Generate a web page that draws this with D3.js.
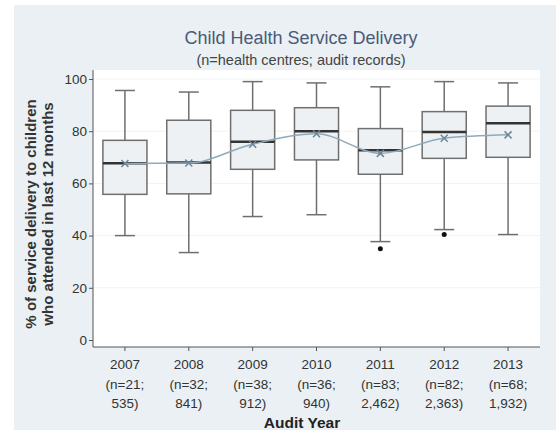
<!DOCTYPE html>
<html>
<head>
<meta charset="utf-8">
<script src="https://cdn.jsdelivr.net/npm/d3@7"></script>
<style>
  body { margin: 0; background: #fff; }
  svg text { font-family: "Liberation Sans", Arial, sans-serif; }
</style>
</head>
<body>
<svg id="chart"></svg>
<script>
// data
const years = ['2007', '2008', '2009', '2010', '2011', '2012', '2013'];
const nLabels = ['(n=21;', '(n=32;', '(n=38;', '(n=36;', '(n=83;', '(n=82;', '(n=68;'];
const recLabels = ['535)', '841)', '912)', '940)', '2,462)', '2,363)', '1,932)'];
const lowWhisker = [40, 33.5, 47.3, 48, 37.7, 42.3, 40.4];
const q1 = [55.8, 56, 65.4, 69, 63.5, 69.6, 70];
const median = [67.7, 68, 76, 80, 72.7, 79.7, 83];
const q3 = [76.5, 84.2, 88, 89, 81, 87.5, 89.6];
const highWhisker = [95.6, 95, 99, 98.5, 97, 99, 98.5];
const means = [67.6, 67.8, 75, 79, 71.5, 77.3, 78.6];
const outliers = [[], [], [], [], [35], [40.4], []];
const yTicks = [0, 20, 40, 60, 80, 100];

const W = 556, H = 432;
const margin = {top: 70, bottom: 87, left: 93, right: 16};
const $svg = d3.select('#chart').attr('width', W).attr('height', H);

// outer panel
$svg.append('rect')
  .attr('x', 14).attr('y', 5)
  .attr('width', W - 14).attr('height', 425)
  .attr('fill', '#eaf0f3');

const scaleX = d3.scaleBand()
  .domain(years)
  .range([margin.left, W - margin.right]);

const scaleY = d3.scaleLinear()
  .domain([0, 100])
  .range([340, 79]);

const plotBottom = H - margin.bottom + 2; // 345

// plot area
$svg.append('rect')
  .attr('x', margin.left).attr('y', margin.top)
  .attr('width', W - margin.right - margin.left)
  .attr('height', plotBottom - margin.top)
  .attr('fill', '#ffffff');

// faint gridlines
$svg.append('g')
  .selectAll('line')
  .data(yTicks.filter(d => d > 0))
  .join('line')
  .attr('x1', margin.left).attr('x2', W - margin.right)
  .attr('y1', d => scaleY(d)).attr('y2', d => scaleY(d))
  .attr('stroke', '#f0f3f5').attr('stroke-width', 1);

// titles
$svg.append('text')
  .attr('x', 301).attr('y', 44)
  .attr('text-anchor', 'middle')
  .attr('font-size', 18)
  .attr('fill', '#4a5a78')
  .text('Child Health Service Delivery');

$svg.append('text')
  .attr('x', 301).attr('y', 65)
  .attr('text-anchor', 'middle')
  .attr('font-size', 14.5)
  .attr('fill', '#444')
  .text('(n=health centres; audit records)');

const boxW = scaleX.bandwidth() * 0.69;
const capW = 20;
const cx = d => scaleX(d) + scaleX.bandwidth() / 2;

const $boxes = $svg.append('g')
  .selectAll('g')
  .data(years)
  .join('g');

// whiskers
$boxes.append('line')
  .attr('x1', cx).attr('x2', cx)
  .attr('y1', (d, i) => scaleY(highWhisker[i]))
  .attr('y2', (d, i) => scaleY(q3[i]))
  .attr('stroke', '#6f6f6f').attr('stroke-width', 1.5);
$boxes.append('line')
  .attr('x1', cx).attr('x2', cx)
  .attr('y1', (d, i) => scaleY(q1[i]))
  .attr('y2', (d, i) => scaleY(lowWhisker[i]))
  .attr('stroke', '#6f6f6f').attr('stroke-width', 1.5);
// caps
$boxes.append('line')
  .attr('x1', d => cx(d) - capW / 2).attr('x2', d => cx(d) + capW / 2)
  .attr('y1', (d, i) => scaleY(highWhisker[i]))
  .attr('y2', (d, i) => scaleY(highWhisker[i]))
  .attr('stroke', '#6f6f6f').attr('stroke-width', 1.5);
$boxes.append('line')
  .attr('x1', d => cx(d) - capW / 2).attr('x2', d => cx(d) + capW / 2)
  .attr('y1', (d, i) => scaleY(lowWhisker[i]))
  .attr('y2', (d, i) => scaleY(lowWhisker[i]))
  .attr('stroke', '#6f6f6f').attr('stroke-width', 1.5);

// boxes
$boxes.append('rect')
  .attr('x', d => cx(d) - boxW / 2)
  .attr('width', boxW)
  .attr('y', (d, i) => scaleY(q3[i]))
  .attr('height', (d, i) => scaleY(q1[i]) - scaleY(q3[i]))
  .attr('fill', '#eef1f3')
  .attr('stroke', '#6f6f6f').attr('stroke-width', 1.5);

// medians
$boxes.append('line')
  .attr('x1', d => cx(d) - boxW / 2).attr('x2', d => cx(d) + boxW / 2)
  .attr('y1', (d, i) => scaleY(median[i]))
  .attr('y2', (d, i) => scaleY(median[i]))
  .attr('stroke', '#333').attr('stroke-width', 2.5);

// outliers
$boxes.each(function(d, i) {
  d3.select(this).selectAll('circle')
    .data(outliers[i])
    .join('circle')
    .attr('cx', cx(d))
    .attr('cy', v => scaleY(v))
    .attr('r', 2.5)
    .attr('fill', '#111');
});

// mean line
const line = d3.line()
  .x((d, i) => cx(years[i]))
  .y(d => scaleY(d))
  .curve(d3.curveMonotoneX);

$svg.append('path')
  .datum(means)
  .attr('d', line)
  .attr('fill', 'none')
  .attr('stroke', '#8eaabb')
  .attr('stroke-width', 1.5);

// mean markers (x)
const mk = 3.5;
$svg.append('g')
  .selectAll('path')
  .data(means)
  .join('path')
  .attr('d', (d, i) => {
    const x = cx(years[i]), y = scaleY(d);
    return `M${x - mk},${y - mk}L${x + mk},${y + mk}M${x - mk},${y + mk}L${x + mk},${y - mk}`;
  })
  .attr('stroke', '#6f8597')
  .attr('stroke-width', 1.5)
  .attr('fill', 'none');

// y axis
const $yAxis = $svg.append('g')
  .attr('transform', `translate(${margin.left},0)`)
  .call(d3.axisLeft(scaleY).tickValues(yTicks).tickSize(4).tickPadding(2));
$yAxis.select('.domain').attr('d', `M0,${margin.top}V${plotBottom}`).attr('stroke', '#555');
$yAxis.selectAll('.tick line').attr('stroke', '#555');
$yAxis.selectAll('.tick text')
  .attr('font-size', 13.5).attr('fill', '#333')
  .style('font-family', '"Liberation Sans", Arial, sans-serif');

// x axis
const $xAxis = $svg.append('g')
  .attr('transform', `translate(0,${plotBottom})`)
  .call(d3.axisBottom(scaleX).tickSize(4).tickFormat(''));
$xAxis.select('.domain').attr('d', `M${margin.left},0H${W - margin.right}`).attr('stroke', '#555');
$xAxis.selectAll('.tick line').attr('stroke', '#555');

const $xLabels = $svg.append('g')
  .selectAll('text')
  .data(years)
  .join('text')
  .attr('x', cx)
  .attr('y', 369)
  .attr('text-anchor', 'middle')
  .attr('font-size', 13.5)
  .attr('fill', '#333');
$xLabels.append('tspan').attr('x', cx).text(d => d);
$xLabels.append('tspan').attr('x', cx).attr('dy', 19.5).text((d, i) => nLabels[i]);
$xLabels.append('tspan').attr('x', cx).attr('dy', 19.5).text((d, i) => recLabels[i]);

$svg.append('text')
  .attr('x', 302).attr('y', 428)
  .attr('text-anchor', 'middle')
  .attr('font-size', 15.5).attr('font-weight', 'bold')
  .attr('fill', '#222')
  .text('Audit Year');

// y label, two lines
const $yLabel = $svg.append('text')
  .attr('transform', 'translate(36,214) rotate(-90)')
  .attr('text-anchor', 'middle')
  .attr('font-size', 15).attr('font-weight', 'bold')
  .attr('fill', '#333');
$yLabel.append('tspan').attr('x', 0).attr('y', 0).text('% of service delivery to children');
$yLabel.append('tspan').attr('x', 0).attr('dy', 17).text('who attended in last 12 months');
</script>
</body>
</html>
